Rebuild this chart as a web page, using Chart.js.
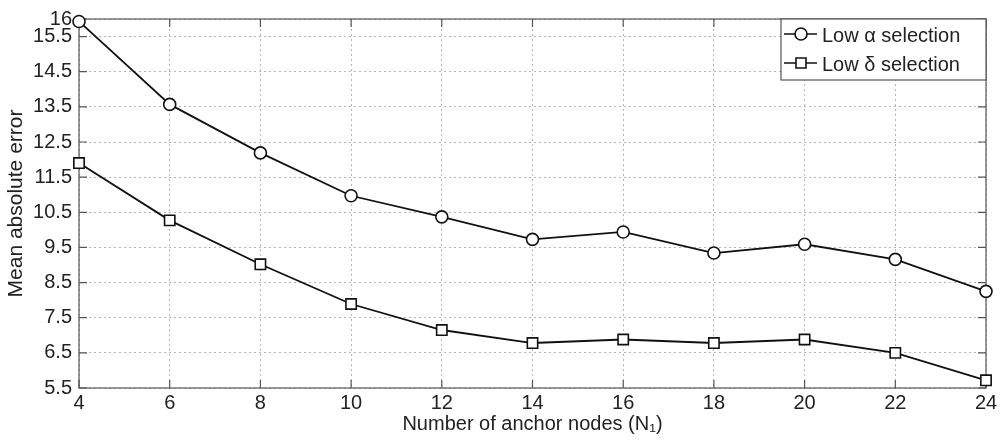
<!DOCTYPE html>
<html lang="en">
<head>
    <meta charset="UTF-8">
    <title>Mean absolute error vs anchor nodes</title>
    <script src="https://cdn.jsdelivr.net/npm/chart.js"></script>
    <style>
        html, body {
            margin: 0;
            padding: 0;
            background: #fff;
        }
        #wrap {
            width: 1005px;
            height: 444px;
            position: relative;
        }
    </style>
</head>
<body>
    <div id="wrap">
        <canvas id="chart"></canvas>
    </div>
    <script>
        // values
        var xLabels = ['4', '6', '8', '10', '12', '14', '16', '18', '20', '22', '24'];
        var lowAlpha = [15.93, 13.57, 12.19, 10.97, 10.37, 9.73, 9.94, 9.34, 9.59, 9.16, 8.25];
        var lowDelta = [11.9, 10.27, 9.02, 7.89, 7.15, 6.78, 6.88, 6.78, 6.88, 6.5, 5.72];
        var yTicks = [5.5, 6.5, 7.5, 8.5, 9.5, 10.5, 11.5, 12.5, 13.5, 14.5, 15.5, 16];
        var seriesNames = ['Low \u03b1 selection', 'Low \u03b4 selection'];

        var FONT = '"Liberation Sans", Arial, Helvetica, sans-serif';
        var TXT = '#222';
        var AXIS = '#555';

        // box around the plot, inward tick marks and the matlab-style legend
        var framePlugin = {
            id: 'frame',
            beforeDatasetsDraw: function(chart) {
                var ctx = chart.ctx;
                var a = chart.chartArea;
                var xs = chart.scales.x, ys = chart.scales.y;
                var tl = 8;
                ctx.save();
                ctx.strokeStyle = AXIS;
                ctx.lineWidth = 1.2;
                ctx.strokeRect(a.left, a.top, a.right - a.left, a.bottom - a.top);
                ctx.beginPath();
                xs.ticks.forEach(function(t, i) {
                    var px = xs.getPixelForTick(i);
                    ctx.moveTo(px, a.bottom); ctx.lineTo(px, a.bottom - tl);
                    ctx.moveTo(px, a.top); ctx.lineTo(px, a.top + tl);
                });
                ys.ticks.forEach(function(t) {
                    var py = ys.getPixelForValue(t.value);
                    ctx.moveTo(a.left, py); ctx.lineTo(a.left + tl, py);
                    ctx.moveTo(a.right, py); ctx.lineTo(a.right - tl, py);
                });
                ctx.stroke();
                ctx.restore();
            },
            afterDraw: function(chart) {
                var ctx = chart.ctx;
                var a = chart.chartArea;
                var w = 205, h = 61;
                var left = a.right - w, top = a.top;
                ctx.save();
                ctx.fillStyle = '#fff';
                ctx.fillRect(left, top, w, h);
                ctx.strokeStyle = AXIS;
                ctx.lineWidth = 1.2;
                ctx.strokeRect(left, top, w, h);
                ctx.font = '20px ' + FONT;
                ctx.textBaseline = 'alphabetic';
                chart.data.datasets.forEach(function(ds, i) {
                    var cy = top + 15 + i * 29;
                    ctx.strokeStyle = '#111';
                    ctx.lineWidth = 1.6;
                    ctx.beginPath();
                    ctx.moveTo(left + 3, cy);
                    ctx.lineTo(left + 36, cy);
                    ctx.stroke();
                    var mx = left + 20;
                    ctx.fillStyle = '#fff';
                    ctx.beginPath();
                    if (ds.pointStyle === 'circle') {
                        ctx.arc(mx, cy, 6, 0, Math.PI * 2);
                    } else {
                        ctx.rect(mx - 5, cy - 5, 10, 10);
                    }
                    ctx.fill();
                    ctx.stroke();
                    ctx.fillStyle = TXT;
                    ctx.fillText(ds.label, left + 41, cy + 8);
                });
                ctx.restore();
            }
        };

        var ctx = document.getElementById('chart').getContext('2d');
        var chart = new Chart(ctx, {
            type: 'line',
            data: {
                labels: xLabels,
                datasets: [{
                    label: seriesNames[0],
                    data: lowAlpha,
                    borderColor: '#111',
                    borderWidth: 1.8,
                    pointStyle: 'circle',
                    pointRadius: 6,
                    pointBorderWidth: 1.6,
                    pointBackgroundColor: '#fff',
                    pointBorderColor: '#111',
                    tension: 0,
                    clip: false,
                    fill: false
                }, {
                    label: seriesNames[1],
                    data: lowDelta,
                    borderColor: '#111',
                    borderWidth: 1.8,
                    pointStyle: 'rect',
                    pointRadius: 7.3,
                    pointBorderWidth: 1.6,
                    pointBackgroundColor: '#fff',
                    pointBorderColor: '#111',
                    tension: 0,
                    clip: false,
                    fill: false
                }]
            },
            options: {
                responsive: true,
                maintainAspectRatio: false,
                animation: false,
                layout: {
                    padding: { top: 18, right: 19, left: 0, bottom: 0 }
                },
                plugins: {
                    legend: { display: false },
                    tooltip: { enabled: false }
                },
                scales: {
                    x: {
                        type: 'category',
                        offset: false,
                        afterFit: function(scale) { scale.height = 56; },
                        grid: {
                            color: '#b5b5b5',
                            lineWidth: 1,
                            drawTicks: false
                        },
                        border: { display: false, dash: [2, 3] },
                        ticks: {
                            color: TXT,
                            padding: 3,
                            maxRotation: 0,
                            autoSkip: false,
                            font: { family: FONT, size: 20 }
                        },
                        title: {
                            display: true,
                            text: 'Number of anchor nodes (N\u2081)',
                            color: TXT,
                            padding: { top: 0, bottom: 8 },
                            font: { family: FONT, size: 20 }
                        }
                    },
                    y: {
                        type: 'linear',
                        min: 5.5,
                        max: 16,
                        afterBuildTicks: function(scale) {
                            scale.ticks = yTicks.map(function(v) { return { value: v }; });
                        },
                        afterFit: function(scale) { scale.width = 79; },
                        grid: {
                            color: '#b5b5b5',
                            lineWidth: 1,
                            drawTicks: false
                        },
                        border: { display: false, dash: [2, 3] },
                        ticks: {
                            color: TXT,
                            padding: 7,
                            autoSkip: false,
                            font: { family: FONT, size: 20 },
                            callback: function(v) { return String(v); }
                        },
                        title: {
                            display: true,
                            text: 'Mean absolute error',
                            color: TXT,
                            padding: { top: 4, bottom: 0 },
                            font: { family: FONT, size: 21 }
                        }
                    }
                }
            },
            plugins: [framePlugin]
        });
    </script>
</body>
</html>
